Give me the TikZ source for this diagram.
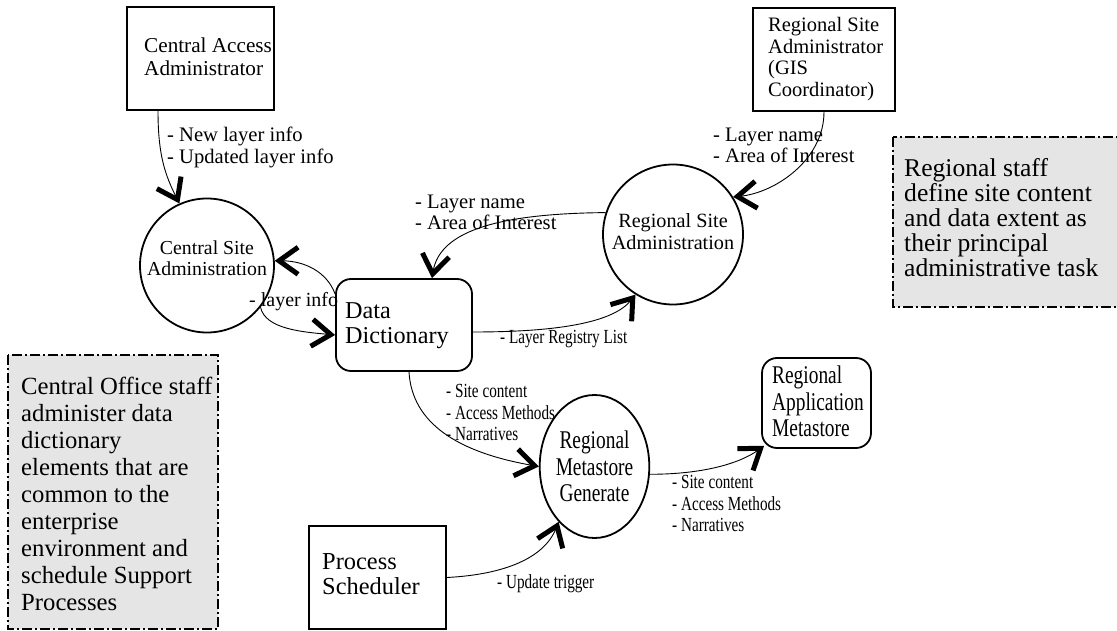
\documentclass[tikz,border=0pt]{standalone}
\usepackage{fontspec}
\setmainfont{Liberation Serif}
\newfontfamily\condensed[FakeStretch=0.76]{Liberation Serif}
\usetikzlibrary{arrows.meta,shapes.geometric}
\definecolor{notegray}{gray}{0.9}

\begin{document}
\begin{tikzpicture}[x=1pt,y=-1pt,
  extbox/.style={draw, line width=1.8pt, rectangle, inner sep=0pt},
  store/.style={draw, line width=1.8pt, rectangle, rounded corners=15pt, inner sep=0pt},
  proc/.style={draw, line width=1.8pt, circle, inner sep=0pt, align=center},
  boxtext/.style={anchor=west, align=left, inner sep=0pt},
  flowlabel/.style={anchor=west, align=left, inner sep=0pt, font=\fontsize{20.6}{21.5}\selectfont},
  narrowlabel/.style={anchor=west, align=left, inner sep=0pt, font=\condensed\fontsize{20}{21.5}\selectfont},
  note/.style={draw, line width=1.8pt, fill=notegray, dash pattern=on 10pt off 3pt on 2pt off 3pt},
  flow/.style={line width=0.9pt, -{Straight Barb[length=19pt, width=27pt, line width=5pt]}}
]
\clip (0,0) rectangle (1117,631);
\fill[white] (0,0) rectangle (1117,631);

% annotation panels
\draw[note] (8,355) rectangle (218,629);
\node[boxtext, font=\fontsize{24.7}{27}\selectfont] (leftnote) at (21,493.5)
  {Central Office staff\\administer data\\dictionary\\elements that are\\common to the\\enterprise\\environment and\\schedule Support\\Processes};
\draw[note] (893,137) rectangle (1130,307);
\node[boxtext, font=\fontsize{25.6}{25}\selectfont] (rightnote) at (904,218)
  {Regional staff\\define site content\\and data extent as\\their principal\\administrative task};

% external entities
\node[extbox, minimum width=147pt, minimum height=103pt] (caa) at (200.5,58.5) {};
\node[boxtext, font=\fontsize{21.2}{23}\selectfont] (caatext) at (144,56.5) {Central Access\\Administrator};
\node[extbox, minimum width=142pt, minimum height=103pt] (rsab) at (824,59.5) {};
\node[boxtext, font=\fontsize{20.5}{21.7}\selectfont] (rsabtext) at (768,59) {Regional Site\\Administrator\\(GIS\\Coordinator)};
\node[extbox, minimum width=137pt, minimum height=103pt] (ps) at (377.5,577.5) {};
\node[boxtext, font=\fontsize{24.4}{25}\selectfont] (pstext) at (322,574.5) {Process\\Scheduler};

% data stores
\node[store, minimum width=136pt, minimum height=92pt] (dd) at (404,325) {};
\node[boxtext, font=\fontsize{24.2}{25}\selectfont] (ddtext) at (345,325.5) {Data\\Dictionary};
\node[store, minimum width=109pt, minimum height=90pt] (ram) at (816.5,403) {};
\node[boxtext, font=\condensed\fontsize{25.5}{26.7}\selectfont] (ramtext) at (772,401.5) {Regional\\Application\\Metastore};

% processes
\node[proc, minimum size=134pt, text depth=14pt, font=\fontsize{19.8}{21}\selectfont] (csa) at (207,265.5) {Central Site\\Administration};
\node[proc, minimum size=140pt, text depth=7pt, font=\fontsize{20.2}{22}\selectfont] (rsa) at (673,234.5) {Regional Site\\Administration};
\node[draw, line width=1.8pt, ellipse, inner sep=0pt, align=center, minimum width=107pt, minimum height=143pt,
  font=\condensed\fontsize{25.5}{26.7}\selectfont] (rmg) at (594.5,466.5) {Regional\\Metastore\\Generate};

% data flows
\draw[flow] ([xshift=-42.5pt]caa.south) .. controls +(0,45) and +(-14,-28) .. (csa.114);
\node[flowlabel] (l1) at (167,147.5) {- New layer info\\- Updated layer info};

\draw[flow] ([yshift=31pt]dd.west) .. controls +(-8,-22) and +(30,0) .. (csa.4);
\draw[flow] (csa.-38) .. controls +(5,22) and +(-32,-3) .. ([yshift=-10pt]dd.west);
\node[flowlabel, font=\fontsize{20}{21.5}\selectfont] (l2) at (249,302) {- layer info};

\draw[flow] (rsa.162) .. controls +(-102,1) and +(8,-49) .. ([xshift=28pt]dd.north);
\node[flowlabel] (l3) at (415,212.5) {- Layer name\\- Area of Interest};

\draw[flow] ([yshift=-7pt]dd.east) .. controls +(85,0) and +(-22,28) .. (rsa.238);
\node[narrowlabel] (l4) at (500,339) {- Layer Registry List};

\draw[flow] (rsab.south) .. controls +(0,48) and +(42,-4) .. (rsa.32);
\node[flowlabel] (l5) at (713,145.5) {- Layer name\\- Area of Interest};

\draw[flow] ([xshift=5pt]dd.south) .. controls +(3,52) and +(-80,-14) .. (rmg.west);
\node[narrowlabel] (l6) at (446,412.5) {- Site content\\- Access Methods\\- Narratives};

\draw[flow] (ps.east) .. controls +(58,-3) and +(-14,36) .. (rmg.237);
\node[narrowlabel] (l7) at (497,584) {- Update trigger};

\draw[flow] (rmg.-8) .. controls +(52,0) and +(-25,18) .. ([xshift=3pt,yshift=3pt]ram.south west);
\node[narrowlabel] (l8) at (672,503.5) {- Site content\\- Access Methods\\- Narratives};
\end{tikzpicture}
\end{document}
